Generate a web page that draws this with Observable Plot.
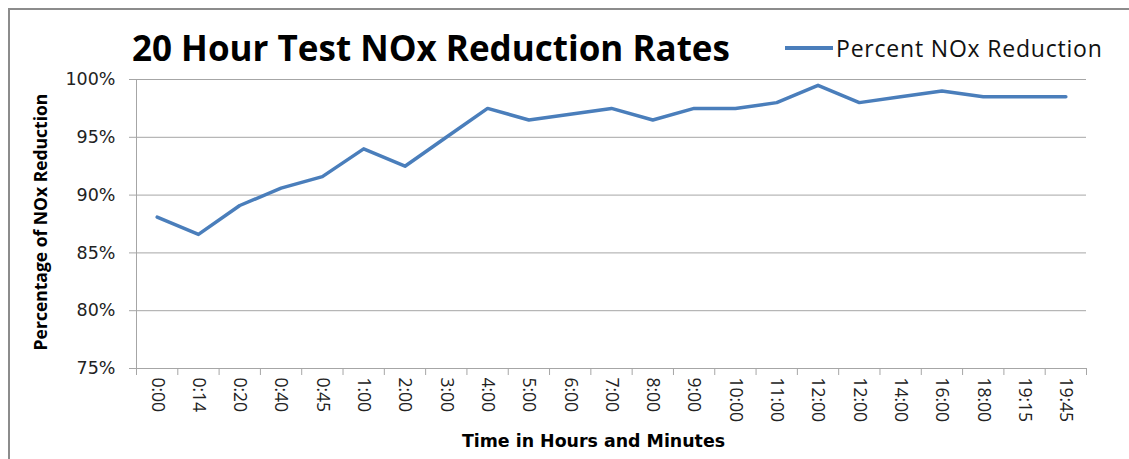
<!DOCTYPE html>
<html>
<head>
<meta charset="utf-8">
<script src="https://cdn.jsdelivr.net/npm/d3@7"></script>
<script src="https://cdn.jsdelivr.net/npm/@observablehq/plot@0.6"></script>
<style>
  html, body { margin: 0; padding: 0; background: #fff; }
  #wrap { position: relative; width: 1129px; height: 459px; overflow: hidden; font-family: "Open Sans", sans-serif; }
  #border { position: absolute; left: 8px; top: 8px; width: 1200px; height: 600px; border: 2px solid #8c8c8c; box-sizing: border-box; }
  #title { position: absolute; left: 132px; top: 26px; font-size: 35px; font-weight: bold; color: #000; white-space: nowrap; line-height: 44px; }
  #legend { position: absolute; left: 785px; top: 33px; font-size: 23px; letter-spacing: 0.8px; color: #111; white-space: nowrap; line-height: 30px; display: flex; align-items: center; }
  #legend .sw { display: inline-block; width: 48px; height: 0; border-top: 4px solid #4a7ebb; margin-right: 3px; }
  #chart { position: absolute; left: 0; top: 0; }
</style>
</head>
<body>
<div id="wrap">
  <div id="border"></div>
  <div id="chart"></div>
  <div id="title">20 Hour Test NOx Reduction Rates</div>
  <div id="legend"><span class="sw"></span><span>Percent NOx Reduction</span></div>
</div>
<script>
const timeLabels = ["0:00","0:14","0:20","0:40","0:45","1:00","2:00","3:00","4:00","5:00","6:00","7:00","8:00","9:00","10:00","11:00","12:00","12:00","14:00","16:00","18:00","19:15","19:45"];
const noxReduction = [88.1, 86.6, 89.1, 90.6, 91.6, 94.0, 92.5, 95.0, 97.5, 96.5, 97.0, 97.5, 96.5, 97.5, 97.5, 98.0, 99.5, 98.0, 98.5, 99.0, 98.5, 98.5, 98.5];
const yTicks = [75, 80, 85, 90, 95, 100];

const data = timeLabels.map((t, i) => ({i, t, v: noxReduction[i]}));
const idx = d3.range(timeLabels.length);
const bounds = d3.range(timeLabels.length + 1).map(i => i - 0.5);
const gridColor = "#a6a6a6";

const chart = Plot.plot({
  width: 1129,
  height: 459,
  marginLeft: 136,
  marginRight: 43,
  marginTop: 79,
  marginBottom: 91,
  style: {fontFamily: "Open Sans, sans-serif", background: "transparent", overflow: "visible"},
  x: {type: "linear", domain: [-0.5, timeLabels.length - 0.5]},
  y: {domain: [75, 100]},
  marks: [
    Plot.gridY(yTicks, {stroke: gridColor, strokeOpacity: 1}),
    Plot.ruleX([-0.5], {stroke: gridColor}),
    Plot.axisY({ticks: yTicks, tickFormat: d => d + "%", tickSize: 7, tickPadding: 14, fontSize: 17.5, fontFamily: "DejaVu Sans", stroke: gridColor, fill: "#222", label: null}),
    Plot.axisX({ticks: bounds, tickFormat: () => "", tickSize: 7, stroke: gridColor, label: null}),
    Plot.axisX({ticks: idx, tickFormat: i => timeLabels[i], tickSize: 0, tickPadding: 9, tickRotate: 90, fontSize: 17.5, fill: "#222", label: null}),
    Plot.line(data, {x: "i", y: "v", stroke: "#4a7ebb", strokeWidth: 3.5, strokeLinejoin: "round", strokeLinecap: "round"}),
    Plot.text(["Percentage of NOx Reduction"], {frameAnchor: "left", dx: -95, dy: -2, rotate: -90, textAnchor: "middle", lineAnchor: "middle", fontSize: 17.5, fontWeight: "bold", fill: "#000"}),
    Plot.text(["Time in Hours and Minutes"], {frameAnchor: "bottom", dx: -18, dy: 73, textAnchor: "middle", lineAnchor: "middle", fontSize: 17.4, fontFamily: "DejaVu Sans", fontWeight: "bold", fill: "#000"})
  ]
});
document.getElementById("chart").appendChild(chart);
</script>
</body>
</html>
